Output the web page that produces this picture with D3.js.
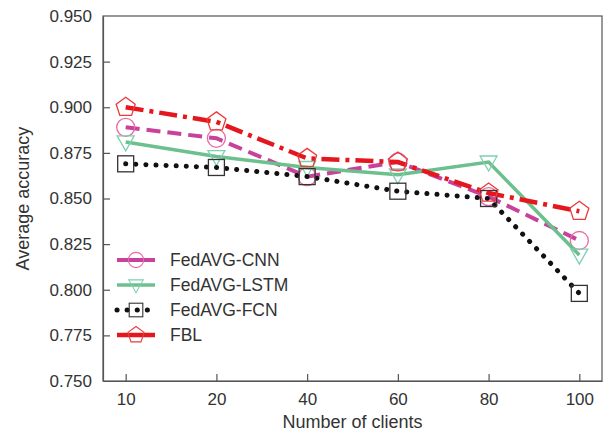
<!DOCTYPE html>
<html lang="en">
<head>
  <meta charset="UTF-8">
  <title>Average accuracy vs clients</title>
  <script src="https://d3js.org/d3.v7.min.js"></script>
</head>
<style>
  body { margin: 0; background: #fff; }
  svg { font-family: "Liberation Sans", Arial, sans-serif; }
  .tick text { fill: #333; font-size: 17px; }
</style>
<body>
<div id="chart"></div>
<script>
  // data
  var clients = ['10', '20', '40', '60', '80', '100'];
  var yTicks = [0.750, 0.775, 0.800, 0.825, 0.850, 0.875, 0.900, 0.925, 0.950];
  var cnn  = [0.889, 0.883, 0.862, 0.870, 0.851, 0.827];
  var lstm = [0.881, 0.873, 0.867, 0.863, 0.870, 0.819];
  var fcn  = [0.869, 0.867, 0.862, 0.854, 0.850, 0.798];
  var fbl  = [0.900, 0.892, 0.872, 0.870, 0.853, 0.843];

  var series = [
    { name: 'FedAVG-CNN',  values: cnn,  line: '#c8419b', mark: '#e86aa8', dash: '14,7',  width: 4,   shape: 'circle' },
    { name: 'FedAVG-LSTM', values: lstm, line: '#6cc08d', mark: '#7fd0b0', dash: null,    width: 3.5, shape: 'triangle' },
    { name: 'FedAVG-FCN',  values: fcn,  line: '#111',    mark: '#333',    dash: '0.1,10', width: 5,  shape: 'square' },
    { name: 'FBL',         values: fbl,  line: '#e3171d', mark: '#ea3a3a', dash: '18,6,4,6', width: 4.5, shape: 'pentagon' }
  ];

  var W = 607, H = 435;
  var m = { left: 103, right: 5, top: 16, bottom: 54 };

  var svg = d3.select('#chart').append('svg')
    .attr('width', W).attr('height', H);

  var x = d3.scalePoint().domain(clients)
    .range([m.left, W - m.right]).padding(0.25);
  var y = d3.scaleLinear().domain([0.75, 0.95])
    .range([H - m.bottom, m.top]);

  // frame
  svg.append('rect')
    .attr('x', m.left).attr('y', m.top)
    .attr('width', W - m.right - m.left).attr('height', H - m.bottom - m.top)
    .attr('fill', 'none').attr('stroke', '#555').attr('stroke-width', 1.2);

  var xAxis = svg.append('g')
    .attr('transform', 'translate(0,' + (H - m.bottom) + ')')
    .call(d3.axisBottom(x).tickSizeInner(-7).tickSizeOuter(0).tickPadding(12));
  var yAxis = svg.append('g')
    .attr('transform', 'translate(' + m.left + ',0)')
    .call(d3.axisLeft(y).tickValues(yTicks).tickFormat(d3.format('.3f'))
      .tickSizeInner(-7).tickSizeOuter(0).tickPadding(11));
  [xAxis, yAxis].forEach(function (a) {
    a.select('.domain').attr('stroke', '#555').attr('stroke-width', 1.2);
    a.selectAll('.tick line').attr('stroke', '#555').attr('stroke-width', 1.2);
  });
  yAxis.selectAll('.tick').filter(function (d) { return d === 0.75 || d === 0.95; })
    .select('line').remove();

  svg.append('text')
    .attr('x', (m.left + W - m.right) / 2).attr('y', 428)
    .attr('text-anchor', 'middle').attr('font-size', 18).attr('fill', '#333')
    .text('Number of clients');
  svg.append('text')
    .attr('transform', 'translate(29,' + ((m.top + H - m.bottom) / 2) + ') rotate(-90)')
    .attr('text-anchor', 'middle').attr('font-size', 18).attr('fill', '#333')
    .text('Average accuracy');

  function drawMarker(g, shape, color) {
    if (shape === 'circle') {
      g.append('circle').attr('r', 9);
    } else if (shape === 'triangle') {
      g.append('path').attr('d', 'M-8.5,-6 L8.5,-6 L0,9 Z');
    } else if (shape === 'square') {
      g.append('rect').attr('x', -8).attr('y', -8).attr('width', 16).attr('height', 16);
    } else {
      var pts = d3.range(5).map(function (i) {
        var a = -Math.PI / 2 + i * 2 * Math.PI / 5;
        return [10 * Math.cos(a), 10 * Math.sin(a)];
      });
      g.append('path').attr('d', 'M' + pts.join('L') + 'Z');
    }
    g.selectAll('*').attr('fill', 'none').attr('stroke', color).attr('stroke-width', 1.3);
  }

  var line = d3.line()
    .x(function (d, i) { return x(clients[i]); })
    .y(function (d) { return y(d); });

  series.forEach(function (s) {
    svg.append('path')
      .datum(s.values)
      .attr('d', line)
      .attr('fill', 'none')
      .attr('stroke', s.line)
      .attr('stroke-width', s.width)
      .attr('stroke-linecap', s.shape === 'square' ? 'round' : 'butt')
      .attr('stroke-dasharray', s.dash);
    s.values.forEach(function (v, i) {
      var g = svg.append('g').attr('transform', 'translate(' + x(clients[i]) + ',' + y(v) + ')');
      drawMarker(g, s.shape, s.mark);
    });
  });

  // legend
  var legend = svg.append('g').attr('transform', 'translate(117,260)');
  series.forEach(function (s, i) {
    var row = legend.append('g').attr('transform', 'translate(0,' + (i * 25) + ')');
    row.append('line').attr('x1', 0).attr('x2', 38)
      .attr('stroke', s.line).attr('stroke-width', s.width)
      .attr('stroke-linecap', s.shape === 'square' ? 'round' : 'butt')
      .attr('stroke-dasharray', s.shape === 'square' ? '0.1,10' : null);
    var mk = row.append('g').attr('transform', 'translate(19,0) scale(0.85)');
    drawMarker(mk, s.shape, s.mark);
    row.append('text').attr('x', 53).attr('y', 6)
      .attr('font-size', 17.5).attr('fill', '#333').text(s.name);
  });
</script>
</body>
</html>
